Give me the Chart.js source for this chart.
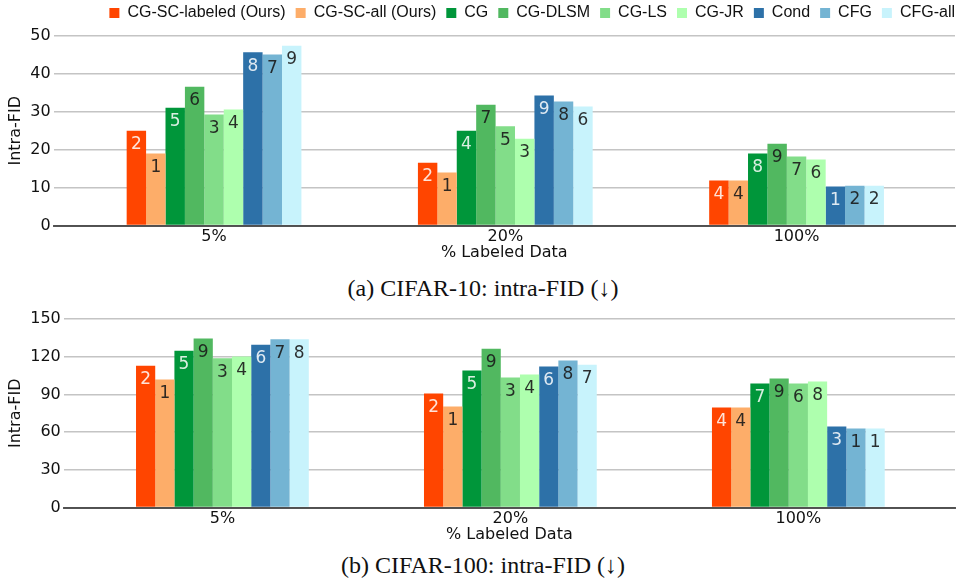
<!DOCTYPE html>
<html>
<head>
<meta charset="utf-8">
<script src="https://cdn.jsdelivr.net/npm/chart.js@4"></script>
<style>
  html, body { margin: 0; padding: 0; background: #fff; }
  body { width: 956px; height: 586px; position: relative; overflow: hidden; }
  canvas { position: absolute; left: 0; }
  #c10 { top: 0; }
  #c100 { top: 298px; }
  .caption {
    position: absolute; left: 483px; transform: translateX(-50%);
    font-family: "Liberation Serif", "Times New Roman", serif; font-size: 24px;
    color: #111; white-space: nowrap;
  }
</style>
</head>
<body>
<canvas id="c10" width="956" height="264"></canvas>
<div class="caption" style="top:275px">(a) CIFAR-10: intra-FID (↓)</div>
<canvas id="c100" width="956" height="248"></canvas>
<div class="caption" style="top:552px">(b) CIFAR-100: intra-FID (↓)</div>

<script>
// methods, in legend order
const methods = ['CG-SC-labeled (Ours)', 'CG-SC-all (Ours)', 'CG', 'CG-DLSM', 'CG-LS', 'CG-JR', 'Cond', 'CFG', 'CFG-all'];
const groupLabels = ['5%', '20%', '100%'];

// CIFAR-10 intra-FID, one array per % labeled data (values in method order)
const cifar10_5 = [25.0, 19.0, 31.1, 36.6, 29.3, 30.6, 45.7, 45.1, 47.4];
const cifar10_20 = [16.6, 14.0, 25.0, 31.9, 26.2, 22.9, 34.3, 32.7, 31.4];
const cifar10_100 = [11.9, 11.9, 19.0, 21.6, 18.2, 17.4, 10.3, 10.5, 10.5];
// rank labels printed in the bars
const cifar10Rank_5 = ['2', '1', '5', '6', '3', '4', '8', '7', '9'];
const cifar10Rank_20 = ['2', '1', '4', '7', '5', '3', '9', '8', '6'];
const cifar10Rank_100 = ['4', '4', '8', '9', '7', '6', '1', '2', '2'];

// CIFAR-100 intra-FID
const cifar100_5 = [112.9, 101.8, 124.8, 134.4, 118.8, 120.1, 129.6, 133.9, 133.9];
const cifar100_20 = [90.7, 80.4, 109.0, 126.4, 103.4, 105.8, 112.2, 116.9, 113.7];
const cifar100_100 = [79.6, 79.6, 98.7, 102.6, 98.7, 100.3, 64.5, 62.9, 62.9];
const cifar100Rank_5 = ['2', '1', '5', '9', '3', '4', '6', '7', '8'];
const cifar100Rank_20 = ['2', '1', '5', '9', '3', '4', '6', '8', '7'];
const cifar100Rank_100 = ['4', '4', '7', '9', '6', '8', '3', '1', '1'];

const colors = ['#ff4500', '#fdad69', '#00963a', '#51b860', '#82dd89', '#aeffae', '#2d71a8', '#74b4d3', '#c8f3fc'];
const lightText = [true, false, true, false, false, false, true, false, false];

const tickFont = { family: 'DejaVu Sans', size: 16 };

// draws the rank number near the top of each bar
const rankPlugin = {
    id: 'rankLabels',
    afterDatasetsDraw(chart) {
        const ctx = chart.ctx;
        ctx.save();
        ctx.font = '17px "DejaVu Sans"';
        ctx.textAlign = 'center';
        ctx.textBaseline = 'alphabetic';
        chart.data.datasets.forEach((ds, di) => {
            const meta = chart.getDatasetMeta(di);
            meta.data.forEach((bar, i) => {
                ctx.fillStyle = lightText[di] ? 'rgba(255,255,255,0.85)' : 'rgba(25,25,25,0.9)';
                ctx.fillText(ds.ranks[i], bar.x, bar.y + 18.5);
            });
        });
        ctx.restore();
    }
};

// nudge the legend to the right edge and up a bit, without touching the chart area
const legendNudge = {
    id: 'legendNudge',
    afterLayout(chart) {
        const lg = chart.legend;
        if (!lg || !lg.options.display) return;
        lg.left += 10; lg.right += 10;
        lg.top -= 5; lg.bottom -= 5;
    }
};

function buildDatasets(groups, rankGroups) {
    return methods.map((m, k) => ({
        label: m,
        data: groups.map(g => g[k]),
        ranks: rankGroups.map(r => r[k]),
        backgroundColor: colors[k],
        borderWidth: 0,
        categoryPercentage: 0.6,
        barPercentage: 1.0
    }));
}

function makeConfig(groups, rankGroups, yMax, yStep, showLegend) {
    return {
        type: 'bar',
        data: {
            labels: [0, 1, 2],
            datasets: buildDatasets(groups, rankGroups)
        },
        plugins: [rankPlugin, legendNudge],
        options: {
            responsive: false,
            animation: false,
            layout: { padding: { left: 6, right: 1, top: showLegend ? 0 : 21, bottom: 2 } },
            plugins: {
                legend: {
                    display: showLegend,
                    align: 'end',
                    labels: {
                        boxWidth: 10, boxHeight: 10, padding: 10,
                        color: '#111',
                        font: { family: 'Liberation Sans', size: 16 }
                    }
                },
                tooltip: { enabled: false }
            },
            scales: {
                x: {
                    type: 'linear',
                    min: -0.551,
                    max: 2.544,
                    offset: false,
                    z: 1,
                    afterBuildTicks: (scale) => {
                        scale.ticks = [0, 1, 2].map(v => ({ value: v }));
                    },
                    grid: { display: false, drawTicks: false },
                    border: { display: true, color: 'rgba(60,60,60,0.85)', width: 2 },
                    ticks: {
                        color: '#111', font: tickFont, padding: 2,
                        maxRotation: 0,
                        callback: (v) => groupLabels[v]
                    },
                    title: {
                        display: true, text: '% Labeled Data', color: '#111',
                        font: tickFont, padding: { top: -6, bottom: 0 }
                    }
                },
                y: {
                    min: 0,
                    max: yMax,
                    grid: { color: '#c4c4c4', lineWidth: 1.5, drawTicks: false },
                    border: { display: false },
                    ticks: { stepSize: yStep, color: '#111', font: tickFont, padding: 3 },
                    title: {
                        display: true, text: 'Intra-FID', color: '#111',
                        font: tickFont, padding: { top: 0, bottom: 2 }
                    }
                }
            }
        }
    };
}

document.addEventListener('DOMContentLoaded', function() {
    new Chart(document.getElementById('c10').getContext('2d'),
        makeConfig([cifar10_5, cifar10_20, cifar10_100],
                   [cifar10Rank_5, cifar10Rank_20, cifar10Rank_100], 50, 10, true));
    new Chart(document.getElementById('c100').getContext('2d'),
        makeConfig([cifar100_5, cifar100_20, cifar100_100],
                   [cifar100Rank_5, cifar100Rank_20, cifar100Rank_100], 150, 30, false));
});
</script>
</body>
</html>
